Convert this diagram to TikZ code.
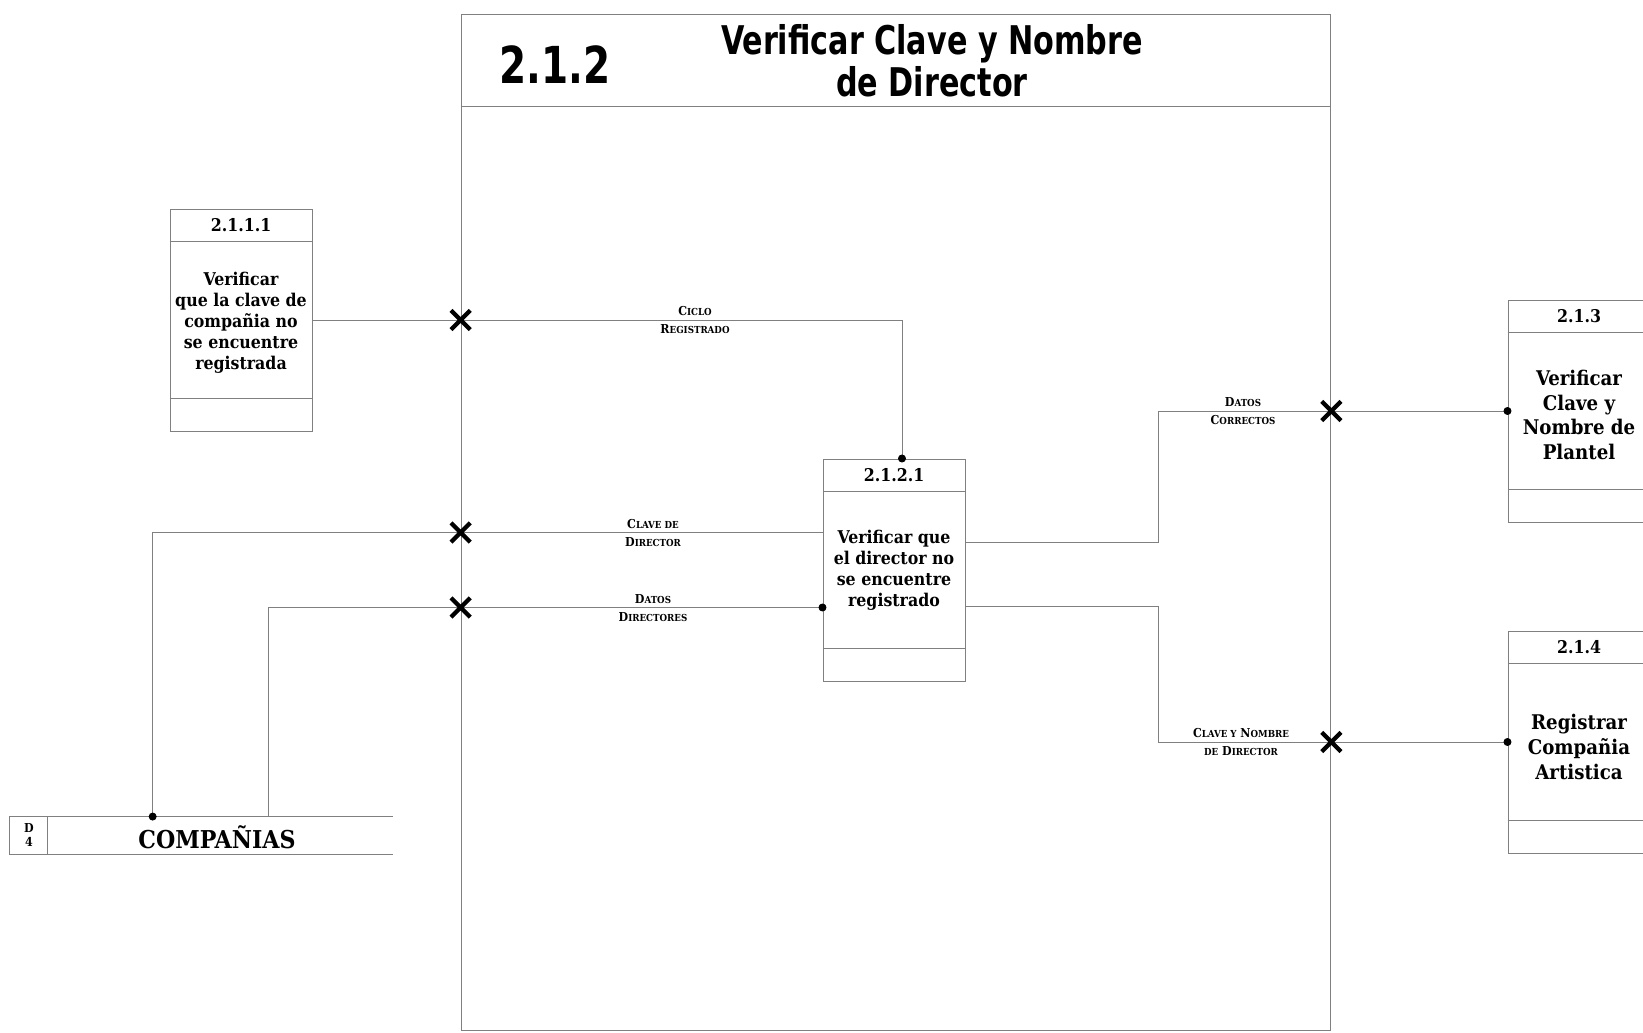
\documentclass[tikz,border=0pt]{standalone}
\usepackage{fontspec}
\setmainfont{DejaVu Serif Condensed}
\newfontfamily\titlefont[FakeStretch=0.85]{DejaVu Sans Condensed}
\usetikzlibrary{arrows.meta,shapes.misc,positioning}

\tikzset{
  linea/.style={draw=black!50, line width=0.5pt},
  proc/.style={linea, minimum width=2.84cm, minimum height=4.44cm, inner sep=0pt},
  num/.style={font=\bfseries\fontsize{10}{12}\selectfont},
  txt/.style={font=\bfseries\fontsize{10}{12}\selectfont, align=center},
  txtg/.style={font=\bfseries\fontsize{11.5}{14}\selectfont, align=center},
  etiq/.style={font=\bfseries\fontsize{7}{10}\selectfont, align=center, inner sep=1pt},
  cruz/.style={cross out, draw=black, line width=2.4pt, minimum size=0.3cm, inner sep=0pt},
  punto/.style={-{Circle[length=4.5pt,color=black]}, shorten >=-2.2pt},
}
\newcommand\pc[2]{#1{\fontsize{5.5}{10}\selectfont #2}}

\begin{document}
\begin{tikzpicture}[x=0.02cm,y=-0.02cm]
    \clip (0,0) rectangle (1643,1033);

    % proceso 2.1.2
    \node[linea, minimum width=17.4cm, minimum height=20.34cm, inner sep=0pt] (p212) at (896,522.5) {};
    \draw[linea] ([yshift=-1.86cm]p212.north west) -- ([yshift=-1.86cm]p212.north east);
    \node[font=\titlefont\bfseries\fontsize{29}{30}\selectfont] (n212) at (555,65) {2.1.2};
    \node[font=\titlefont\bfseries\fontsize{22.5}{24}\selectfont, align=center] (t212) at (932,61) {Verificar Clave y Nombre\\de Director};

    % procesos
    \node[proc] (p2111) at (241,320) {};
    \node[proc] (p2121) at (894,570) {};
    \node[proc] (p213) at (1579,411) {};
    \node[proc] (p214) at (1579,742) {};
    \foreach \p in {p2111,p2121,p213,p214} {
        \draw[linea] ([yshift=-0.66cm]\p.north west) -- ([yshift=-0.66cm]\p.north east);
        \draw[linea] ([yshift=0.66cm]\p.south west) -- ([yshift=0.66cm]\p.south east);
    }
    \node[num] (n2111) at ([yshift=-0.33cm]p2111.north) {2.1.1.1};
    \node[num] (n2121) at ([yshift=-0.33cm]p2121.north) {2.1.2.1};
    \node[num] (n213) at ([yshift=-0.33cm]p213.north) {2.1.3};
    \node[num] (n214) at ([yshift=-0.33cm]p214.north) {2.1.4};
    \node[txt] (t2111) at ([yshift=-0.05cm]p2111.center) {Verificar\\que la clave de\\compañia no\\se encuentre\\registrada};
    \node[txt] (t2121) at (p2121.center) {Verificar que\\el director no\\se encuentre\\registrado};
    \node[txtg] (t213) at ([yshift=-0.08cm]p213.center) {Verificar\\Clave y\\Nombre de\\Plantel};
    \node[txtg] (t214) at ([yshift=-0.1cm]p214.center) {Registrar\\Compañia\\Artistica};

    % almacen D4
    \node[minimum width=7.66cm, minimum height=0.74cm, inner sep=0pt] (alm) at (201.5,835.5) {};
    \draw[linea] (alm.north east) -- (alm.north west) -- (alm.south west) -- (alm.south east);
    \draw[linea] ([xshift=0.76cm]alm.north west) -- ([xshift=0.76cm]alm.south west);
    \node[font=\bfseries\fontsize{7}{8}\selectfont, align=center] (alm-id) at (29,835) {D\\4};
    \node[font=\bfseries\fontsize{14}{16}\selectfont] (alm-nom) at (217,837) {COMPAÑIAS};
    \coordinate (s1) at ([xshift=2.86cm]alm.north west);
    \coordinate (s2) at ([xshift=5.18cm]alm.north west);

    % flujos
    \coordinate (e1) at ([yshift=0.75cm]p2121.west);
    \coordinate (e2) at ([yshift=-0.75cm]p2121.west);
    \draw[linea, punto] (p2111.east) -| ([xshift=0.16cm]p2121.north);
    \draw[linea, {Circle[length=4.5pt,color=black]}-, shorten <=-2.2pt] (s1) |- (e1);
    \draw[linea, punto] (s2) |- (e2);
    \draw[linea, punto] ([yshift=0.56cm]p2121.east) -- ++(3.86cm,0) |- (p213.west);
    \draw[linea, punto] ([yshift=-0.72cm]p2121.east) -- ++(3.86cm,0) |- (p214.west);

    \node[etiq] (l1) at (695,320) {\pc{C}{ICLO}\\\pc{R}{EGISTRADO}};
    \node[etiq] (l2) at (653,533) {\pc{C}{LAVE DE}\\\pc{D}{IRECTOR}};
    \node[etiq] (l3) at (653,608) {\pc{D}{ATOS}\\\pc{D}{IRECTORES}};
    \node[etiq] (l4) at (1243,411) {\pc{D}{ATOS}\\\pc{C}{ORRECTOS}};
    \node[etiq] (l5) at (1241,742) {\pc{C}{LAVE Y} \pc{N}{OMBRE}\\\pc{}{DE} \pc{D}{IRECTOR}};

    % cruces
    \node[cruz] (x1) at (p212.west |- p2111.east) {};
    \node[cruz] (x2) at (p212.west |- e1) {};
    \node[cruz] (x3) at (p212.west |- e2) {};
    \node[cruz] (x4) at (p212.east |- p213.west) {};
    \node[cruz] (x5) at (p212.east |- p214.west) {};
\end{tikzpicture}
\end{document}
